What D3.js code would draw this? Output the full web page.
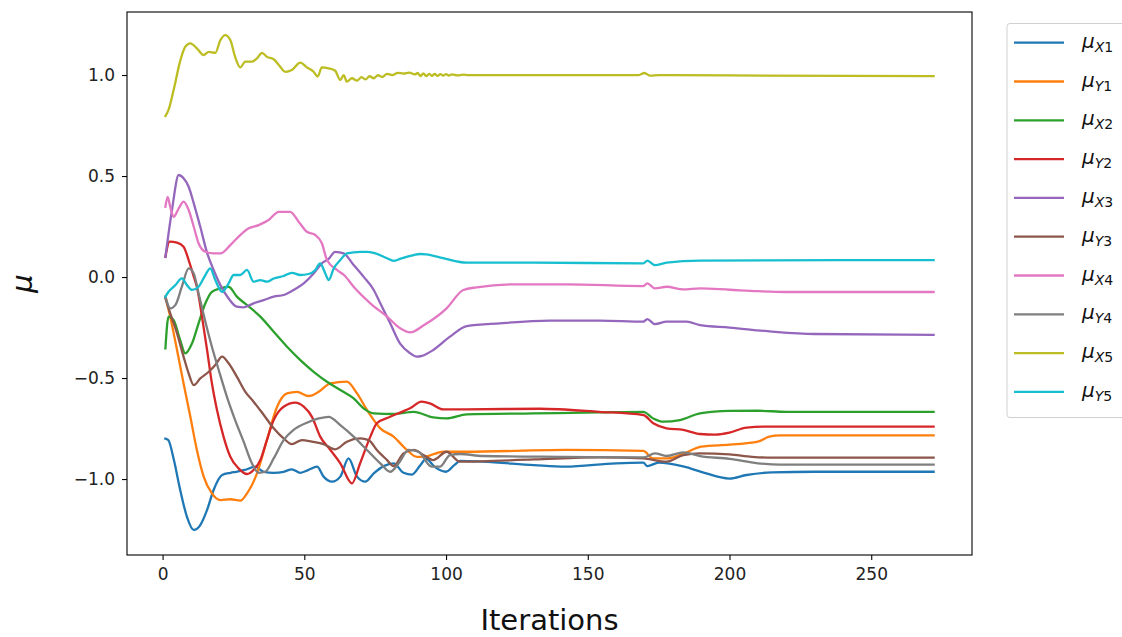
<!DOCTYPE html>
<html>
<head>
<meta charset="utf-8">
<script src="https://cdn.jsdelivr.net/npm/d3@7"></script>
<style>
  html, body { margin: 0; padding: 0; background: #fff; }
  svg { display: block; font-family: "DejaVu Sans", sans-serif; }
</style>
</head>
<body>
<svg id="chart" width="1122" height="637"></svg>
<script>
// Parameter estimates per iteration: [iteration, value]
const muX1 = [[1,-0.80],[2,-0.807],[4,-0.906],[6,-1.04],[8.6,-1.187],[11,-1.252],[13.3,-1.228],[15.7,-1.153],[18,-1.054],[21,-0.98],[24,-0.969],[26,-0.964],[29,-0.955],[32.7,-0.939],[35.7,-0.964],[39.2,-0.969],[42.7,-0.964],[45.6,-0.952],[48.6,-0.969],[51.5,-0.955],[54.5,-0.939],[56.8,-0.988],[59.8,-1.013],[62.7,-0.988],[65.6,-0.898],[68.6,-0.988],[71.5,-1.013],[74.5,-0.972],[78,-0.936],[81.5,-0.922],[85,-0.969],[88,-0.978],[91,-0.93],[93,-0.9],[96,-0.94],[100,-0.964],[103,-0.93],[105,-0.91],[113,-0.914],[131,-0.931],[142,-0.939],[160,-0.922],[169.6,-0.919],[171,-0.936],[175,-0.919],[184,-0.939],[190,-0.964],[200,-0.998],[206,-0.98],[215,-0.967],[230,-0.964],[272,-0.964]];
const muY1 = [[1,-0.097],[2.7,-0.196],[5.1,-0.361],[7.4,-0.526],[9.8,-0.692],[12.1,-0.856],[14.5,-0.988],[17.4,-1.071],[20.4,-1.104],[23.9,-1.1],[27.4,-1.107],[29.8,-1.071],[33.3,-0.972],[36.8,-0.807],[40.4,-0.642],[43.9,-0.576],[47.4,-0.568],[51.5,-0.589],[55.1,-0.568],[59.2,-0.526],[65,-0.518],[68.6,-0.576],[72.1,-0.658],[76.8,-0.749],[81.5,-0.79],[86.2,-0.856],[89.7,-0.89],[92,-0.89],[99,-0.865],[107,-0.865],[142,-0.856],[169.6,-0.861],[173,-0.898],[178,-0.898],[184,-0.873],[190,-0.84],[200,-0.83],[210,-0.815],[214,-0.79],[218,-0.784],[272,-0.784]];
const muX2 = [[1,-0.353],[2.1,-0.196],[3.9,-0.213],[6.2,-0.312],[8,-0.378],[10.4,-0.328],[12.7,-0.229],[15.1,-0.13],[17.4,-0.073],[20.4,-0.056],[23.3,-0.048],[26.2,-0.097],[29.8,-0.139],[34.5,-0.196],[39.2,-0.271],[43.9,-0.345],[48.6,-0.411],[53.3,-0.469],[58,-0.518],[62.7,-0.559],[67.4,-0.601],[70.9,-0.65],[74.5,-0.675],[81.5,-0.678],[88.6,-0.667],[95.5,-0.695],[100.2,-0.7],[107.3,-0.68],[131,-0.675],[154,-0.67],[169.6,-0.667],[173.1,-0.7],[176.6,-0.716],[182.5,-0.708],[189.6,-0.675],[200,-0.663],[210,-0.662],[220,-0.667],[272,-0.667]];
const muY2 = [[1,0.1],[2.5,0.175],[5.1,0.17],[7.4,0.15],[9.2,0.084],[11,0.002],[12.1,-0.048],[13.9,-0.196],[15.7,-0.361],[17.4,-0.526],[19.2,-0.658],[21.5,-0.79],[23.9,-0.89],[26.8,-0.947],[29.8,-0.975],[32.1,-0.955],[34.5,-0.906],[36.8,-0.807],[39.2,-0.708],[42.7,-0.642],[46.8,-0.622],[49.8,-0.642],[52.7,-0.692],[55.6,-0.79],[59.2,-0.856],[62.7,-0.922],[66.8,-1.021],[69.7,-0.922],[73.3,-0.79],[75.6,-0.724],[80.3,-0.692],[84,-0.67],[87.3,-0.65],[91.4,-0.617],[94.3,-0.625],[99,-0.655],[107,-0.655],[133,-0.652],[154,-0.667],[169.6,-0.683],[173.1,-0.724],[177.8,-0.749],[183.7,-0.757],[189.6,-0.777],[195,-0.78],[200,-0.77],[206,-0.745],[212,-0.741],[272,-0.741]];
const muX3 = [[1,0.1],[3.3,0.33],[5.7,0.505],[7.4,0.489],[9.2,0.447],[11,0.365],[13.3,0.249],[15.7,0.12],[18,0.035],[20.4,-0.04],[23.3,-0.106],[26.2,-0.147],[28.6,-0.15],[32.1,-0.13],[35.7,-0.114],[39.2,-0.097],[42.7,-0.089],[46.2,-0.064],[49.8,-0.031],[53.3,0.018],[56.2,0.068],[58.6,0.09],[60.9,0.125],[63.9,0.117],[67.4,0.06],[70.9,0.002],[74.5,-0.064],[76.8,-0.13],[80.3,-0.229],[83.8,-0.33],[87.4,-0.378],[89.6,-0.394],[91.5,-0.39],[95.5,-0.361],[101.4,-0.295],[107.3,-0.243],[119,-0.229],[136.6,-0.216],[154.3,-0.216],[169.6,-0.221],[171,-0.208],[173.7,-0.233],[177.8,-0.221],[184.9,-0.221],[189.6,-0.238],[200,-0.25],[215,-0.27],[230,-0.282],[272,-0.286]];
const muY3 = [[1,-0.106],[2.7,-0.18],[5.1,-0.279],[7.4,-0.394],[9.2,-0.477],[11,-0.535],[13.3,-0.502],[16.3,-0.469],[18.6,-0.436],[21,-0.394],[23.3,-0.427],[26.2,-0.493],[29.2,-0.568],[32.1,-0.617],[35.7,-0.683],[39.2,-0.749],[42.7,-0.799],[45.6,-0.827],[49.2,-0.807],[52.7,-0.815],[56.8,-0.827],[60.9,-0.853],[65,-0.815],[69.7,-0.799],[72.7,-0.807],[75.6,-0.856],[79.2,-0.906],[81.5,-0.936],[85,-0.873],[88.6,-0.856],[92,-0.881],[95.5,-0.906],[100.2,-0.865],[104.9,-0.914],[131,-0.903],[154,-0.893],[169.6,-0.898],[177.8,-0.914],[183.7,-0.881],[189.6,-0.873],[200,-0.878],[208,-0.89],[215,-0.894],[272,-0.894]];
const muX4 = [[1,0.348],[1.8,0.397],[2.7,0.348],[3.9,0.298],[5.7,0.34],[7.4,0.373],[9.2,0.332],[11,0.249],[12.7,0.167],[15.1,0.125],[18,0.117],[20.4,0.117],[23.9,0.158],[27.4,0.208],[30.4,0.241],[33.9,0.257],[37.4,0.282],[41,0.323],[45,0.323],[48,0.274],[50.9,0.224],[53.9,0.208],[56.2,0.167],[58,0.084],[61.5,0.035],[64,0.01],[67.4,-0.048],[73.3,-0.13],[79.2,-0.196],[83.8,-0.254],[87.4,-0.274],[92,-0.24],[100.2,-0.155],[106.1,-0.064],[110.8,-0.051],[124.9,-0.036],[142.5,-0.036],[169.6,-0.045],[171,-0.031],[173.7,-0.056],[177.8,-0.048],[183.7,-0.061],[189.6,-0.056],[200,-0.063],[210,-0.07],[220,-0.074],[272,-0.074]];
const muY4 = [[1,-0.097],[2.7,-0.155],[4.5,-0.139],[6.8,-0.048],[9.2,0.043],[11,0.018],[12.7,-0.081],[15.1,-0.221],[17.4,-0.345],[19.8,-0.46],[22.7,-0.593],[25.6,-0.708],[28.6,-0.815],[31.5,-0.922],[33.9,-0.969],[36.2,-0.964],[39.2,-0.898],[42.7,-0.807],[46.2,-0.757],[50.9,-0.721],[55.1,-0.7],[58.6,-0.692],[62.7,-0.733],[67.4,-0.79],[72.1,-0.856],[76.8,-0.922],[80.3,-0.964],[83.3,-0.922],[86.8,-0.856],[90.3,-0.865],[94.9,-0.939],[97.8,-0.939],[101.4,-0.881],[104.9,-0.876],[113,-0.886],[142.5,-0.89],[169.6,-0.893],[173.7,-0.873],[177.8,-0.886],[183.7,-0.868],[189.6,-0.886],[200,-0.9],[210,-0.922],[218,-0.929],[272,-0.929]];
const muX5 = [[1,0.797],[2.1,0.827],[3.9,0.926],[6.3,1.074],[8,1.14],[9.8,1.157],[12.1,1.132],[14.5,1.099],[16.3,1.115],[18.6,1.11],[20.4,1.173],[22.1,1.198],[23.9,1.173],[25.6,1.09],[27.4,1.038],[29.2,1.066],[31.5,1.066],[33.3,1.083],[35.1,1.11],[36.8,1.09],[39.2,1.078],[41,1.05],[43.3,1.016],[45.6,1.025],[48.6,1.061],[50.9,1.038],[53.3,1.016],[54.7,0.992],[56.2,1.038],[58.6,1.033],[60.9,1.021],[62.7,0.975],[63.9,1.0],[65,0.967],[66.8,0.984],[68.6,0.972],[70.2,0.99],[71.6,0.978],[73,0.994],[74.5,0.984],[76,0.999],[77.5,0.99],[79.2,1.006],[81,1.0],[83,1.011],[85,1.007],[87,1.012],[89,1.003],[90,1.01],[91,0.995],[92,1.008],[93,0.995],[94,1.006],[95,0.996],[96,1.005],[97,0.996],[98,1.004],[99,0.997],[100,1.004],[101,0.997],[102,1.003],[104,0.998],[106,1.002],[108,1.0],[140,1.0],[168,1.0],[170,1.01],[172,0.997],[175,1.0],[200,0.998],[272,0.995]];
const muY5 = [[1,-0.097],[2.1,-0.073],[4.5,-0.04],[6.8,-0.007],[8.6,-0.04],[10.4,-0.064],[12.7,-0.048],[15.1,0.01],[16.8,0.043],[18.6,-0.015],[21,-0.073],[23.3,-0.031],[25.1,0.01],[27.4,0.01],[29.8,0.035],[32.1,-0.023],[34.5,-0.015],[36.8,-0.023],[39.2,-0.007],[42.7,0.005],[45.6,0.021],[48.6,0.01],[51.5,0.015],[53.9,0.035],[55.6,0.068],[57.4,0.018],[58.6,-0.015],[60.4,0.043],[62.7,0.084],[65,0.117],[69.7,0.125],[72.1,0.125],[74.5,0.12],[79.2,0.093],[81.5,0.08],[83.8,0.09],[88.6,0.109],[90.8,0.114],[93,0.112],[99,0.093],[107.3,0.071],[130.8,0.071],[169.6,0.068],[171,0.081],[173.7,0.059],[177.8,0.071],[189.6,0.081],[272,0.084]];

const seriesNames = ["X1","Y1","X2","Y2","X3","Y3","X4","Y4","X5","Y5"];
const seriesData = [muX1, muY1, muX2, muY2, muX3, muY3, muX4, muY4, muX5, muY5];
const colors = ["#1f77b4","#ff7f0e","#2ca02c","#d62728","#9467bd","#8c564b","#e377c2","#7f7f7f","#bcbd22","#17becf"];
const xTicks = [0, 50, 100, 150, 200, 250];
const yTicks = [-1.0, -0.5, 0.0, 0.5, 1.0];

const plot = { left: 127, right: 972, top: 12, bottom: 555 };
const svg = d3.select("#chart");

const x = d3.scaleLinear().domain([-12.55, 285.55]).range([plot.left, plot.right]);
const y = d3.scaleLinear().domain([-1.376, 1.312]).range([plot.bottom, plot.top]);

svg.append("clipPath").attr("id", "plotclip")
  .append("rect")
  .attr("x", plot.left).attr("y", plot.top)
  .attr("width", plot.right - plot.left).attr("height", plot.bottom - plot.top);

// Lines
const line = d3.line()
  .x(d => x(d[0]))
  .y(d => y(d[1]))
  .curve(d3.curveMonotoneX);

const lines = svg.append("g").attr("clip-path", "url(#plotclip)");
seriesData.forEach((data, i) => {
  lines.append("path")
    .datum(data)
    .attr("d", line)
    .attr("fill", "none")
    .attr("stroke", colors[i])
    .attr("stroke-width", 2.3)
    .attr("stroke-linejoin", "round")
    .attr("stroke-linecap", "square");
});

// Axes
const minus = s => s.replace("-", "\u2212");
const xAxis = svg.append("g")
  .attr("transform", `translate(0,${plot.bottom})`)
  .call(d3.axisBottom(x).tickValues(xTicks).tickFormat(d3.format("d")).tickSize(5).tickPadding(8).tickSizeOuter(0));
const yAxis = svg.append("g")
  .attr("transform", `translate(${plot.left},0)`)
  .call(d3.axisLeft(y).tickValues(yTicks).tickFormat(d => minus(d3.format(".1f")(d))).tickSize(5).tickPadding(7).tickSizeOuter(0));

[xAxis, yAxis].forEach(g => {
  g.select(".domain").remove();
  g.selectAll(".tick line").attr("stroke", "#000").attr("stroke-width", 1.1);
  g.selectAll(".tick text")
    .attr("fill", "#222")
    .style("font-family", "'DejaVu Sans', sans-serif")
    .style("font-size", "17px");
});

// Frame
svg.append("rect")
  .attr("x", plot.left).attr("y", plot.top)
  .attr("width", plot.right - plot.left).attr("height", plot.bottom - plot.top)
  .attr("fill", "none").attr("stroke", "#000").attr("stroke-width", 1.1);

// Axis titles
svg.append("text")
  .attr("x", (plot.left + plot.right) / 2)
  .attr("y", 630)
  .attr("text-anchor", "middle")
  .style("font-size", "29px")
  .attr("fill", "#111")
  .text("Iterations");

svg.append("text")
  .attr("transform", `translate(32,${(plot.top + plot.bottom) / 2}) rotate(-90)`)
  .attr("text-anchor", "middle")
  .style("font-size", "29px")
  .style("font-style", "italic")
  .attr("fill", "#111")
  .text("μ");

// Legend
const legend = svg.append("g");
legend.append("rect")
  .attr("x", 1007).attr("y", 23.5)
  .attr("width", 130).attr("height", 394)
  .attr("rx", 3)
  .attr("fill", "#fff").attr("fill-opacity", 0.8)
  .attr("stroke", "#d0d0d0").attr("stroke-width", 1);

seriesNames.forEach((name, i) => {
  const cy = 42.7 + i * 38.8;
  legend.append("line")
    .attr("x1", 1014).attr("x2", 1064)
    .attr("y1", cy).attr("y2", cy)
    .attr("stroke", colors[i]).attr("stroke-width", 2.3);
  const t = legend.append("text")
    .attr("x", 1082).attr("y", cy + 5)
    .attr("fill", "#111");
  t.append("tspan").style("font-size", "20px").style("font-style", "italic").text("μ");
  t.append("tspan").attr("dy", 4).style("font-size", "14px").style("font-style", "italic").text(name[0]);
  t.append("tspan").style("font-size", "14px").text(name.slice(1));
});
</script>
</body>
</html>
